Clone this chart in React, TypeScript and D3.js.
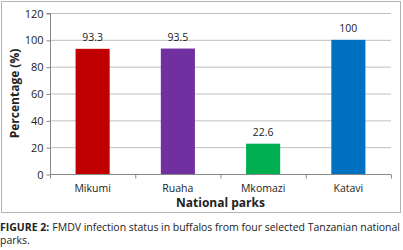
import React, { useEffect, useRef } from "react";
import * as d3 from "d3";

const parks = ["Mikumi", "Ruaha", "Mkomazi", "Katavi"];
const percentages = [93.3, 93.5, 22.6, 100];
const barColors = ["#C00000", "#7030A0", "#00B050", "#0070C0"];
const yTicks = [0, 20, 40, 60, 80, 100, 120];

export default function App() {
  const ref = useRef<SVGSVGElement>(null);

  useEffect(() => {
    const svg = d3.select(ref.current);
    svg.selectAll("*").remove();

    const left = 50, right = 391, top = 13, bottom = 174;

    // frame
    svg.append("rect")
      .attr("x", 1.5).attr("y", 1.5)
      .attr("width", 399).attr("height", 211)
      .attr("fill", "white").attr("stroke", "#b3b3b3");

    const x = d3.scaleBand().domain(parks).range([left, right]).paddingInner(0.6).paddingOuter(0.3);
    const y = d3.scaleLinear().domain([0, 120]).range([bottom, top]);

    // gridlines
    svg.append("g").selectAll("line")
      .data(yTicks.slice(1))
      .enter().append("line")
      .attr("x1", left).attr("x2", right)
      .attr("y1", d => y(d) + 0.5).attr("y2", d => y(d) + 0.5)
      .attr("stroke", "#bfbfbf");

    // bars
    svg.append("g").selectAll("rect")
      .data(percentages)
      .enter().append("rect")
      .attr("x", (d, i) => x(parks[i])!)
      .attr("y", d => y(d))
      .attr("width", x.bandwidth())
      .attr("height", d => bottom - y(d))
      .attr("fill", (d, i) => barColors[i]);

    // value labels
    svg.append("g").selectAll("text")
      .data(percentages)
      .enter().append("text")
      .attr("x", (d, i) => x(parks[i])! + x.bandwidth() / 2)
      .attr("y", d => y(d) - 8)
      .attr("text-anchor", "middle")
      .attr("font-family", "Open Sans, sans-serif")
      .attr("font-size", 10.5)
      .attr("fill", "#222")
      .text(d => String(d));

    // y axis
    const yAxis = svg.append("g")
      .attr("transform", `translate(${left + 0.5},0.5)`)
      .call(d3.axisLeft(y).tickValues(yTicks).tickSize(4).tickPadding(3));
    yAxis.select(".domain").attr("stroke", "#888").attr("d", `M-4,${top}H0V${bottom}`);
    yAxis.selectAll(".tick line").attr("stroke", "#888");
    yAxis.selectAll(".tick text")
      .attr("font-family", "Open Sans, sans-serif")
      .attr("font-size", 11).attr("fill", "#222");

    // x axis
    const xAxis = svg.append("g").attr("transform", `translate(0,${bottom + 0.5})`);
    xAxis.append("line").attr("x1", left).attr("x2", right).attr("stroke", "#888");
    const bounds = d3.range(parks.length + 1).map(i => left + (i * (right - left)) / parks.length);
    xAxis.selectAll("line.tk").data(bounds).enter().append("line")
      .attr("class", "tk")
      .attr("x1", d => d + 0.5).attr("x2", d => d + 0.5)
      .attr("y1", 0).attr("y2", 4).attr("stroke", "#888");
    xAxis.selectAll("text").data(parks).enter().append("text")
      .attr("x", d => x(d)! + x.bandwidth() / 2)
      .attr("y", 17)
      .attr("text-anchor", "middle")
      .attr("font-family", "Open Sans, sans-serif")
      .attr("font-size", 10.5).attr("fill", "#222")
      .text(d => d);

    // axis titles
    svg.append("text")
      .attr("x", (left + right) / 2).attr("y", 207)
      .attr("text-anchor", "middle")
      .attr("font-family", "Open Sans, sans-serif")
      .attr("font-weight", "bold").attr("font-size", 12).attr("fill", "#222")
      .text("National parks");

    svg.append("text")
      .attr("transform", `translate(19,${(top + bottom) / 2}) rotate(-90)`)
      .attr("text-anchor", "middle")
      .attr("font-family", "Open Sans, sans-serif")
      .attr("font-weight", "bold").attr("font-size", 12).attr("fill", "#222")
      .text("Percentage (%)");

    // caption
    const bold = svg.append("text")
      .attr("x", 0).attr("y", 230.5)
      .attr("font-family", "Open Sans, sans-serif")
      .attr("font-weight", "bold")
      .attr("font-size", 10.5).attr("fill", "#222")
      .text("FIGURE 2:");
    const bw = (bold.node() as SVGTextElement).getComputedTextLength();
    svg.append("text")
      .attr("x", bw + 3).attr("y", 230.5)
      .attr("font-family", "Open Sans, sans-serif")
      .attr("font-size", 10.5).attr("fill", "#222")
      .attr("textLength", 400 - bw - 3).attr("lengthAdjust", "spacing")
      .text("FMDV infection status in buffalos from four selected Tanzanian national");
    svg.append("text")
      .attr("x", 0).attr("y", 244)
      .attr("font-family", "Open Sans, sans-serif")
      .attr("font-size", 10.5).attr("fill", "#222")
      .text("parks.");
  }, []);

  return (
    <svg ref={ref} width={403} height={250}
      style={{ position: "absolute", left: 0, top: 0, background: "white" }} />
  );
}
